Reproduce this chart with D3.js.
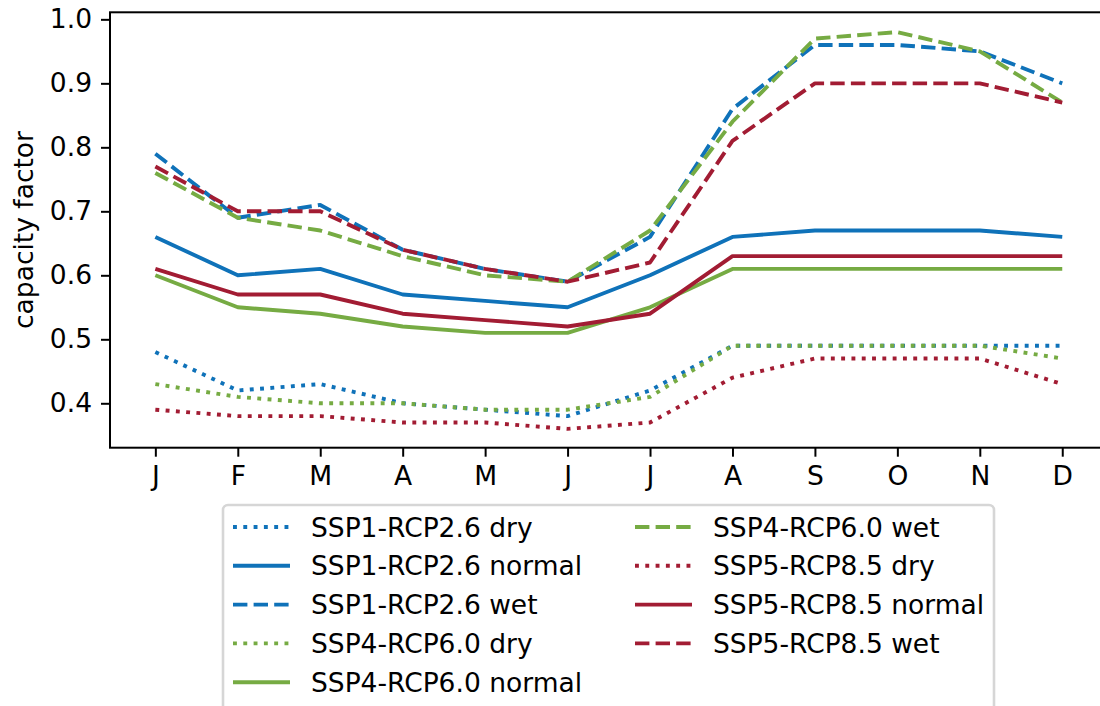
<!DOCTYPE html>
<html>
<head>
<meta charset="utf-8">
<script src="https://cdn.jsdelivr.net/npm/d3@7"></script>
<style>
  html, body { margin: 0; padding: 0; background: #fff; overflow: hidden; }
  svg { display: block; }
  text { font-family: "DejaVu Sans", sans-serif; fill: #000; }
</style>
</head>
<body>
<svg id="chart" width="1100" height="706"></svg>
<script>
// Month labels along the x axis
const months = ["J", "F", "M", "A", "M", "J", "J", "A", "S", "O", "N", "D"];

// Monthly capacity factor per scenario and hydrological year
const ssp1Dry    = [0.48, 0.42, 0.43, 0.40, 0.39, 0.38, 0.42, 0.49, 0.49, 0.49, 0.49, 0.49];
const ssp1Normal = [0.66, 0.60, 0.61, 0.57, 0.56, 0.55, 0.60, 0.66, 0.67, 0.67, 0.67, 0.66];
const ssp1Wet    = [0.79, 0.69, 0.71, 0.64, 0.61, 0.59, 0.66, 0.86, 0.96, 0.96, 0.95, 0.90];
const ssp4Dry    = [0.43, 0.41, 0.40, 0.40, 0.39, 0.39, 0.41, 0.49, 0.49, 0.49, 0.49, 0.47];
const ssp4Normal = [0.60, 0.55, 0.54, 0.52, 0.51, 0.51, 0.55, 0.61, 0.61, 0.61, 0.61, 0.61];
const ssp4Wet    = [0.76, 0.69, 0.67, 0.63, 0.60, 0.59, 0.67, 0.84, 0.97, 0.98, 0.95, 0.87];
const ssp5Dry    = [0.39, 0.38, 0.38, 0.37, 0.37, 0.36, 0.37, 0.44, 0.47, 0.47, 0.47, 0.43];
const ssp5Normal = [0.61, 0.57, 0.57, 0.54, 0.53, 0.52, 0.54, 0.63, 0.63, 0.63, 0.63, 0.63];
const ssp5Wet    = [0.77, 0.70, 0.70, 0.64, 0.61, 0.59, 0.62, 0.81, 0.90, 0.90, 0.90, 0.87];

// Y axis tick values
const yTicks = [0.4, 0.5, 0.6, 0.7, 0.8, 0.9, 1.0];

const BLUE = "#0f72b9", GREEN = "#76ab43", RED = "#a21c33";

const series = [
  { name: "SSP1-RCP2.6 dry",    values: ssp1Dry,    color: BLUE,  style: "dotted" },
  { name: "SSP1-RCP2.6 normal", values: ssp1Normal, color: BLUE,  style: "solid" },
  { name: "SSP1-RCP2.6 wet",    values: ssp1Wet,    color: BLUE,  style: "dashed" },
  { name: "SSP4-RCP6.0 dry",    values: ssp4Dry,    color: GREEN, style: "dotted" },
  { name: "SSP4-RCP6.0 normal", values: ssp4Normal, color: GREEN, style: "solid" },
  { name: "SSP4-RCP6.0 wet",    values: ssp4Wet,    color: GREEN, style: "dashed" },
  { name: "SSP5-RCP8.5 dry",    values: ssp5Dry,    color: RED,   style: "dotted" },
  { name: "SSP5-RCP8.5 normal", values: ssp5Normal, color: RED,   style: "solid" },
  { name: "SSP5-RCP8.5 wet",    values: ssp5Wet,    color: RED,   style: "dashed" }
];

const LW = 3.9;
const dashFor = s => s === "dashed" ? "14.4,6.2" : s === "dotted" ? "3.9,6.4" : null;

const svg = d3.select("#chart");
const plot = { left: 110, right: 1107.6, top: 12.3, bottom: 447.7 };

const x = d3.scaleLinear().domain([-0.55, 11.55]).range([plot.left, plot.right]);
const y = d3.scaleLinear().domain([0.3306, 1.011]).range([plot.bottom, plot.top]);

// Data lines, clipped to the axes area
svg.append("clipPath").attr("id", "plotclip")
  .append("rect")
  .attr("x", plot.left).attr("y", plot.top)
  .attr("width", plot.right - plot.left).attr("height", plot.bottom - plot.top);

const line = d3.line().x((d, i) => x(i)).y(d => y(d));

svg.append("g").attr("clip-path", "url(#plotclip)")
  .selectAll("path")
  .data(series)
  .join("path")
  .attr("d", d => line(d.values))
  .attr("fill", "none")
  .attr("stroke", d => d.color)
  .attr("stroke-width", LW)
  .attr("stroke-linejoin", "round")
  .attr("stroke-dasharray", d => dashFor(d.style));

// Axes
const fontPx = 26.5;
const xAxis = d3.axisBottom(x)
  .tickValues(d3.range(months.length))
  .tickFormat(i => months[i])
  .tickSize(9).tickPadding(9).tickSizeOuter(0);
const yAxis = d3.axisLeft(y)
  .tickValues(yTicks)
  .tickFormat(d3.format(".1f"))
  .tickSize(9).tickPadding(9).tickSizeOuter(0);

const gx = svg.append("g").attr("transform", `translate(0,${plot.bottom})`).call(xAxis);
const gy = svg.append("g").attr("transform", `translate(${plot.left},0)`).call(yAxis);

[gx, gy].forEach(g => {
  g.select(".domain").remove();
  g.selectAll(".tick line").attr("stroke", "#000").attr("stroke-width", 2);
  g.selectAll(".tick text")
    .attr("font-size", fontPx)
    .attr("font-family", "DejaVu Sans, sans-serif")
    .attr("fill", "#000");
});

// Frame around the axes
svg.append("rect")
  .attr("x", plot.left).attr("y", plot.top)
  .attr("width", plot.right - plot.left).attr("height", plot.bottom - plot.top)
  .attr("fill", "none").attr("stroke", "#000").attr("stroke-width", 2);

// Y axis title
svg.append("text")
  .attr("transform", `translate(33,${(plot.top + plot.bottom) / 2}) rotate(-90)`)
  .attr("text-anchor", "middle")
  .attr("font-size", fontPx)
  .text("capacity factor");

// Legend: two columns, column-major order
const legend = svg.append("g");
legend.append("rect")
  .attr("x", 223).attr("y", 505)
  .attr("width", 771).attr("height", 215)
  .attr("rx", 5).attr("ry", 5)
  .attr("fill", "#fff").attr("fill-opacity", 0.8)
  .attr("stroke", "#d6d6d6").attr("stroke-width", 2.6);

const rowsPerCol = 5;
const colX = [233, 635];
const rowY0 = 527, rowStep = 38.8;

const items = legend.selectAll("g.item")
  .data(series)
  .join("g")
  .attr("class", "item")
  .attr("transform", (d, i) => {
    const c = Math.floor(i / rowsPerCol), r = i % rowsPerCol;
    return `translate(${colX[c]},${rowY0 + r * rowStep})`;
  });

items.append("line")
  .attr("x1", 0).attr("x2", 57)
  .attr("y1", 0).attr("y2", 0)
  .attr("stroke", d => d.color)
  .attr("stroke-width", LW)
  .attr("stroke-dasharray", d => dashFor(d.style));

items.append("text")
  .attr("x", 78)
  .attr("y", 0)
  .attr("dy", "0.36em")
  .attr("font-size", fontPx)
  .text(d => d.name);
</script>
</body>
</html>
